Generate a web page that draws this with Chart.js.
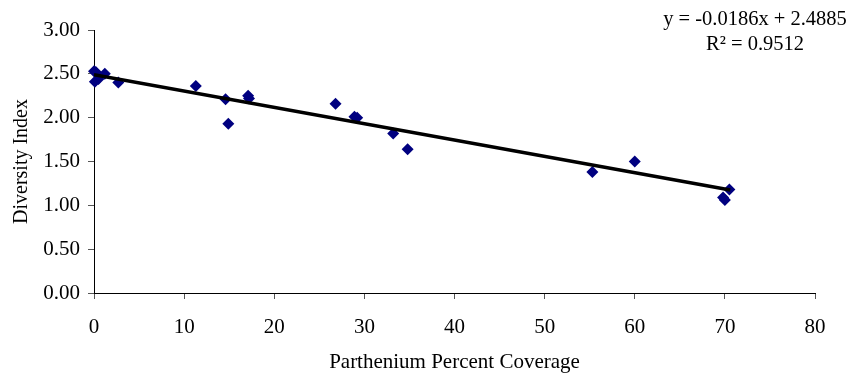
<!DOCTYPE html>
<html>
<head>
<meta charset="utf-8">
<script src="https://cdn.jsdelivr.net/npm/chart.js@4"></script>
<style>
  html, body { margin: 0; padding: 0; background: #fff; }
  #wrap { width: 855px; height: 377px; }
</style>
</head>
<body>
<div id="wrap"><canvas id="chart" width="855" height="377"></canvas></div>
<script>
// Parthenium coverage (%) vs diversity index
const coverage = [0, 0.2, 0.1, 0.5, 1.2, 2.7, 11.3, 14.6, 14.9, 17.1, 17.2, 26.8, 28.9, 29.2, 33.2, 34.8, 55.3, 60.0, 70.5, 69.8, 70.0]
const diversity = [2.53, 2.52, 2.41, 2.44, 2.50, 2.40, 2.36, 2.21, 1.93, 2.25, 2.22, 2.16, 2.01, 2.00, 1.82, 1.64, 1.38, 1.50, 1.18, 1.09, 1.06]

// linear trendline end points
const trendX = [0, 70.6]
const trendY = [2.4885, 1.1753]

const eqLines = ['y = -0.0186x + 2.4885', 'R² = 0.9512']

const serif = "'Liberation Serif', 'Times New Roman', serif"

const equationPlugin = {
  id: 'equation',
  afterDraw(chart) {
    const c = chart.ctx
    c.save()
    c.fillStyle = '#000'
    c.font = `20.5px ${serif}`
    c.textAlign = 'center'
    c.textBaseline = 'middle'
    c.fillText(eqLines[0], 755, 20)
    c.fillText(eqLines[1], 755, 45)
    c.restore()
  }
}

new Chart(document.getElementById('chart'), {
  type: 'scatter',
  data: {
    datasets: [
      {
        data: coverage.map((x, i) => ({ x, y: diversity[i] })),
        pointStyle: 'rectRot',
        pointRadius: 6,
        backgroundColor: '#000080',
        borderColor: '#000080',
        borderWidth: 0,
        clip: false,
        order: 2
      },
      {
        type: 'line',
        data: trendX.map((x, i) => ({ x, y: trendY[i] })),
        borderColor: '#000',
        borderWidth: 3.5,
        pointRadius: 0,
        fill: false,
        order: 1
      }
    ]
  },
  options: {
    responsive: false,
    animation: false,
    layout: { padding: { left: 0, top: 30, right: 40, bottom: 0 } },
    plugins: { legend: { display: false }, tooltip: { enabled: false } },
    scales: {
      x: {
        type: 'linear',
        min: 0, max: 80,
        afterFit(s) { s.height = 84 },
        border: { color: '#000', width: 1 },
        grid: { drawOnChartArea: false, drawTicks: true, tickLength: 6, color: '#555' },
        ticks: { stepSize: 10, color: '#000', font: { family: serif, size: 21 }, padding: 16 },
        title: { display: true, text: 'Parthenium Percent Coverage', color: '#000', font: { family: serif, size: 21 }, padding: { top: 4, bottom: 2 } }
      },
      y: {
        min: 0, max: 3,
        afterFit(s) { s.width = 94 },
        border: { color: '#000', width: 1 },
        grid: { drawOnChartArea: false, drawTicks: true, tickLength: 6, color: '#555' },
        ticks: { stepSize: 0.5, color: '#000', font: { family: serif, size: 21 }, padding: 8, callback: v => v.toFixed(2) },
        title: { display: true, text: 'Diversity Index', color: '#000', font: { family: serif, size: 20 }, padding: { top: 10, bottom: 4 } }
      }
    }
  },
  plugins: [equationPlugin]
})
</script>
</body>
</html>
